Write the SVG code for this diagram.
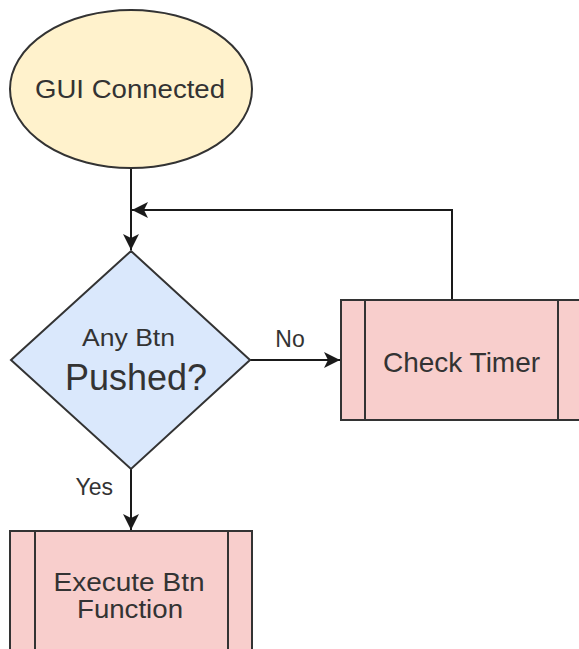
<svg xmlns="http://www.w3.org/2000/svg" width="579" height="649" viewBox="0 0 579 649">
  <style>
    .shape { stroke: #333333; stroke-width: 2; }
    .edge { fill: none; stroke: #1a1a1a; stroke-width: 2; }
    .txt { font-family: "Liberation Sans", Arial, sans-serif; fill: #333333; text-anchor: middle; }
    .lbl { font-family: "Liberation Sans", Arial, sans-serif; fill: #333333; font-size: 23px; }
  </style>
  <defs>
    <marker id="arrow" markerUnits="userSpaceOnUse" markerWidth="17" markerHeight="16" refX="16" refY="8" orient="auto">
      <path d="M0,0 L16,8 L0,16 L4,8 z" fill="#1a1a1a"/>
    </marker>
  </defs>
  <rect width="579" height="649" fill="#ffffff"/>

  <g id="connectors">
    <path class="edge" d="M131,168 V250" marker-end="url(#arrow)"/>
    <path class="edge" d="M452,300 V210 H132" marker-end="url(#arrow)"/>
    <path class="edge" d="M250,360 H340" marker-end="url(#arrow)"/>
    <text class="lbl" x="290" y="347" text-anchor="middle">No</text>
    <path class="edge" d="M131,469 V530" marker-end="url(#arrow)"/>
    <text class="lbl" x="113" y="495" text-anchor="end">Yes</text>
  </g>

  <g id="gui-connected">
    <ellipse class="shape" cx="131" cy="89" rx="121" ry="79" fill="#fff2cc"/>
    <text class="txt" x="130" y="98" font-size="26" textLength="190" lengthAdjust="spacingAndGlyphs">GUI Connected</text>
  </g>

  <g id="any-btn-pushed">
    <polygon class="shape" points="131,251 250,360 131,469 11,360" fill="#dae8fc"/>
    <text class="txt" x="128.5" y="346" font-size="23" textLength="93" lengthAdjust="spacingAndGlyphs">Any Btn</text>
    <text class="txt" x="136" y="390" font-size="37" fill="#1a1a1a" textLength="142" lengthAdjust="spacingAndGlyphs">Pushed?</text>
  </g>

  <g id="check-timer">
    <rect class="shape" x="341" y="300" width="241" height="120" fill="#f8cecc"/>
    <line class="shape" x1="365" y1="300" x2="365" y2="420"/>
    <line class="shape" x1="558" y1="300" x2="558" y2="420"/>
    <text class="txt" x="461.5" y="372" font-size="28">Check Timer</text>
  </g>

  <g id="execute-btn-function">
    <rect class="shape" x="10" y="531" width="242" height="120" fill="#f8cecc"/>
    <line class="shape" x1="35" y1="531" x2="35" y2="651"/>
    <line class="shape" x1="228" y1="531" x2="228" y2="651"/>
    <text class="txt" x="129" y="591" font-size="25" textLength="151" lengthAdjust="spacingAndGlyphs">Execute Btn</text>
    <text class="txt" x="130" y="618" font-size="25" textLength="106" lengthAdjust="spacingAndGlyphs">Function</text>
  </g>
</svg>
